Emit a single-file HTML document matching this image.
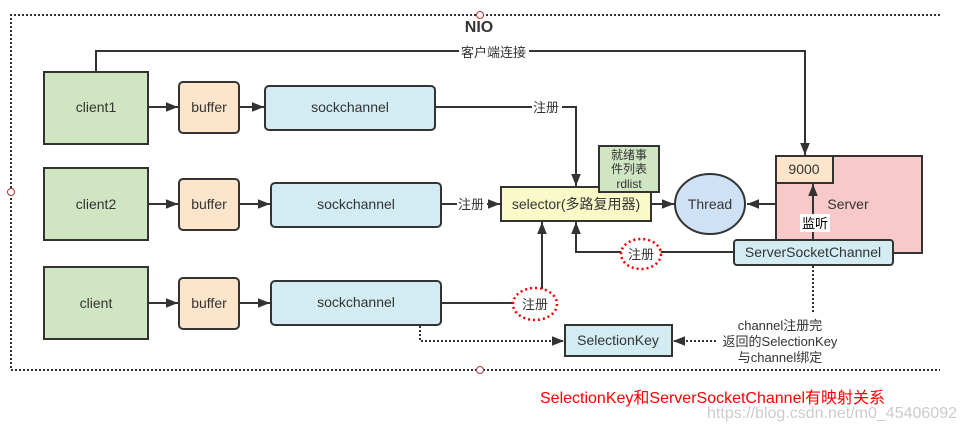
<!DOCTYPE html>
<html><head><meta charset="utf-8"><style>
html,body{margin:0;padding:0;background:#fff;}
svg{display:block;}
text{font-family:"Liberation Sans","Noto Sans CJK SC",sans-serif;fill:#333;}
</style></head><body>
<svg width="967" height="432" viewBox="0 0 967 432" xmlns="http://www.w3.org/2000/svg">
<defs>
<marker id="b" viewBox="0 0 10 10" refX="10" refY="5" markerWidth="12" markerHeight="12" markerUnits="userSpaceOnUse" orient="auto"><path d="M0,1L10,5L0,9z" fill="#333"/></marker>
</defs>
<path d="M940,15H11V370H940" fill="none" stroke="#333" stroke-width="2" stroke-dasharray="2,2"/>
<circle cx="11" cy="192" r="3.5" fill="#fff" stroke="#b33" stroke-width="1"/>
<circle cx="480" cy="15" r="3.5" fill="#fff" stroke="#b33" stroke-width="1"/>
<circle cx="480" cy="370" r="3.5" fill="#fff" stroke="#b33" stroke-width="1"/>
<text x="479" y="32" font-size="16" font-weight="bold" text-anchor="middle">NIO</text>

<g stroke="#333" stroke-width="2" fill="none">
<path d="M96,72V51H805V155" marker-end="url(#b)"/>
<path d="M148,107H178" marker-end="url(#b)"/>
<path d="M239,107H264" marker-end="url(#b)"/>
<path d="M148,204H178" marker-end="url(#b)"/>
<path d="M239,204H270" marker-end="url(#b)"/>
<path d="M148,303H178" marker-end="url(#b)"/>
<path d="M239,303H270" marker-end="url(#b)"/>
<path d="M435,107H576V186" marker-end="url(#b)"/>
<path d="M441,204H500" marker-end="url(#b)"/>
<path d="M441,303H542V222" marker-end="url(#b)"/>
<path d="M734,252H576V222" marker-end="url(#b)"/>
<path d="M651,204H674" marker-end="url(#b)"/>
<path d="M776,204H747" marker-end="url(#b)"/>
</g>
<g stroke="#333" stroke-width="2" fill="none" stroke-dasharray="2,2">
<path d="M420,326V341H564" marker-end="url(#b)"/>
<path d="M813,266V314"/>
<path d="M716,341H673" marker-end="url(#b)"/>
</g>
<rect x="459" y="43" width="70" height="16" fill="#fff"/>
<text x="461" y="57" font-size="13">客户端连接</text>
<rect x="532" y="99" width="30" height="16" fill="#fff"/>
<text x="533" y="112" font-size="13">注册</text>
<rect x="457" y="196" width="30" height="16" fill="#fff"/>
<text x="458" y="209" font-size="13">注册</text>

<g stroke="#333" stroke-width="2">
<rect x="44" y="72" width="104" height="72" fill="#d0e6c3"/>
<rect x="44" y="168" width="104" height="72" fill="#d0e6c3"/>
<rect x="44" y="267" width="104" height="72" fill="#d0e6c3"/>
<rect x="179" y="82" width="60" height="51" rx="4" fill="#fde5cb"/>
<rect x="179" y="179" width="60" height="51" rx="4" fill="#fde5cb"/>
<rect x="179" y="278" width="60" height="51" rx="4" fill="#fde5cb"/>
<rect x="265" y="86" width="170" height="44" rx="4" fill="#d2ecf2"/>
<rect x="271" y="183" width="170" height="44" rx="4" fill="#d2ecf2"/>
<rect x="271" y="281" width="170" height="44" rx="4" fill="#d2ecf2"/>
<rect x="501" y="187" width="150" height="34" fill="#fafac8"/>
<rect x="599" y="146" width="60" height="46" fill="#d0e6c3"/>
<ellipse cx="710" cy="204" rx="35" ry="30" fill="#cfe2f5"/>
<rect x="776" y="156" width="146" height="97" fill="#f8c9c9"/>
<rect x="776" y="156" width="57" height="27" fill="#fde5cb"/>
<rect x="734" y="240" width="159" height="25" rx="3" fill="#d2ecf2"/>
<rect x="565" y="325" width="107" height="31" fill="#d2ecf2"/>
</g>
<path d="M813,240V184" stroke="#333" stroke-width="2" marker-end="url(#b)"/>
<g font-size="14" text-anchor="middle">
<text x="96" y="112">client1</text>
<text x="96" y="209">client2</text>
<text x="96" y="308">client</text>
<text x="209" y="112">buffer</text>
<text x="209" y="209">buffer</text>
<text x="209" y="308">buffer</text>
<text x="350" y="112">sockchannel</text>
<text x="356" y="209">sockchannel</text>
<text x="356" y="307">sockchannel</text>
<text x="576" y="209">selector(多路复用器)</text>
<text x="629" y="159" font-size="12">就绪事</text>
<text x="629" y="173" font-size="12">件列表</text>
<text x="629" y="188" font-size="12">rdlist</text>
<text x="710" y="209">Thread</text>
<text x="804" y="174">9000</text>
<text x="848" y="209">Server</text>
<text x="813" y="257">ServerSocketChannel</text>
<text x="618" y="345">SelectionKey</text>
<text x="780" y="330" font-size="13">channel注册完</text>
<text x="780" y="346" font-size="13">返回的SelectionKey</text>
<text x="780" y="362" font-size="13">与channel绑定</text>
</g>
<rect x="800" y="214" width="30" height="18" fill="#fff"/>
<text x="815" y="228" font-size="13" text-anchor="middle" style="fill:#000">监听</text>
<ellipse cx="641" cy="254" rx="20" ry="15" fill="#fff" stroke="#e00" stroke-width="2.5" stroke-dasharray="2,3"/>
<text x="641" y="259" font-size="13" text-anchor="middle">注册</text>
<ellipse cx="535" cy="304" rx="22" ry="16" fill="#fff" stroke="#e00" stroke-width="2.5" stroke-dasharray="2,3"/>
<text x="535" y="309" font-size="13" text-anchor="middle">注册</text>
<path d="M542,288V222" stroke="#333" stroke-width="2"/>
<text x="540" y="403" font-size="16" style="fill:#f00">SelectionKey和ServerSocketChannel有映射关系</text>
<text x="957" y="418" font-size="16" text-anchor="end" style="fill:#ccc">https://blog.csdn.net/m0_45406092</text>
</svg>
</body></html>
